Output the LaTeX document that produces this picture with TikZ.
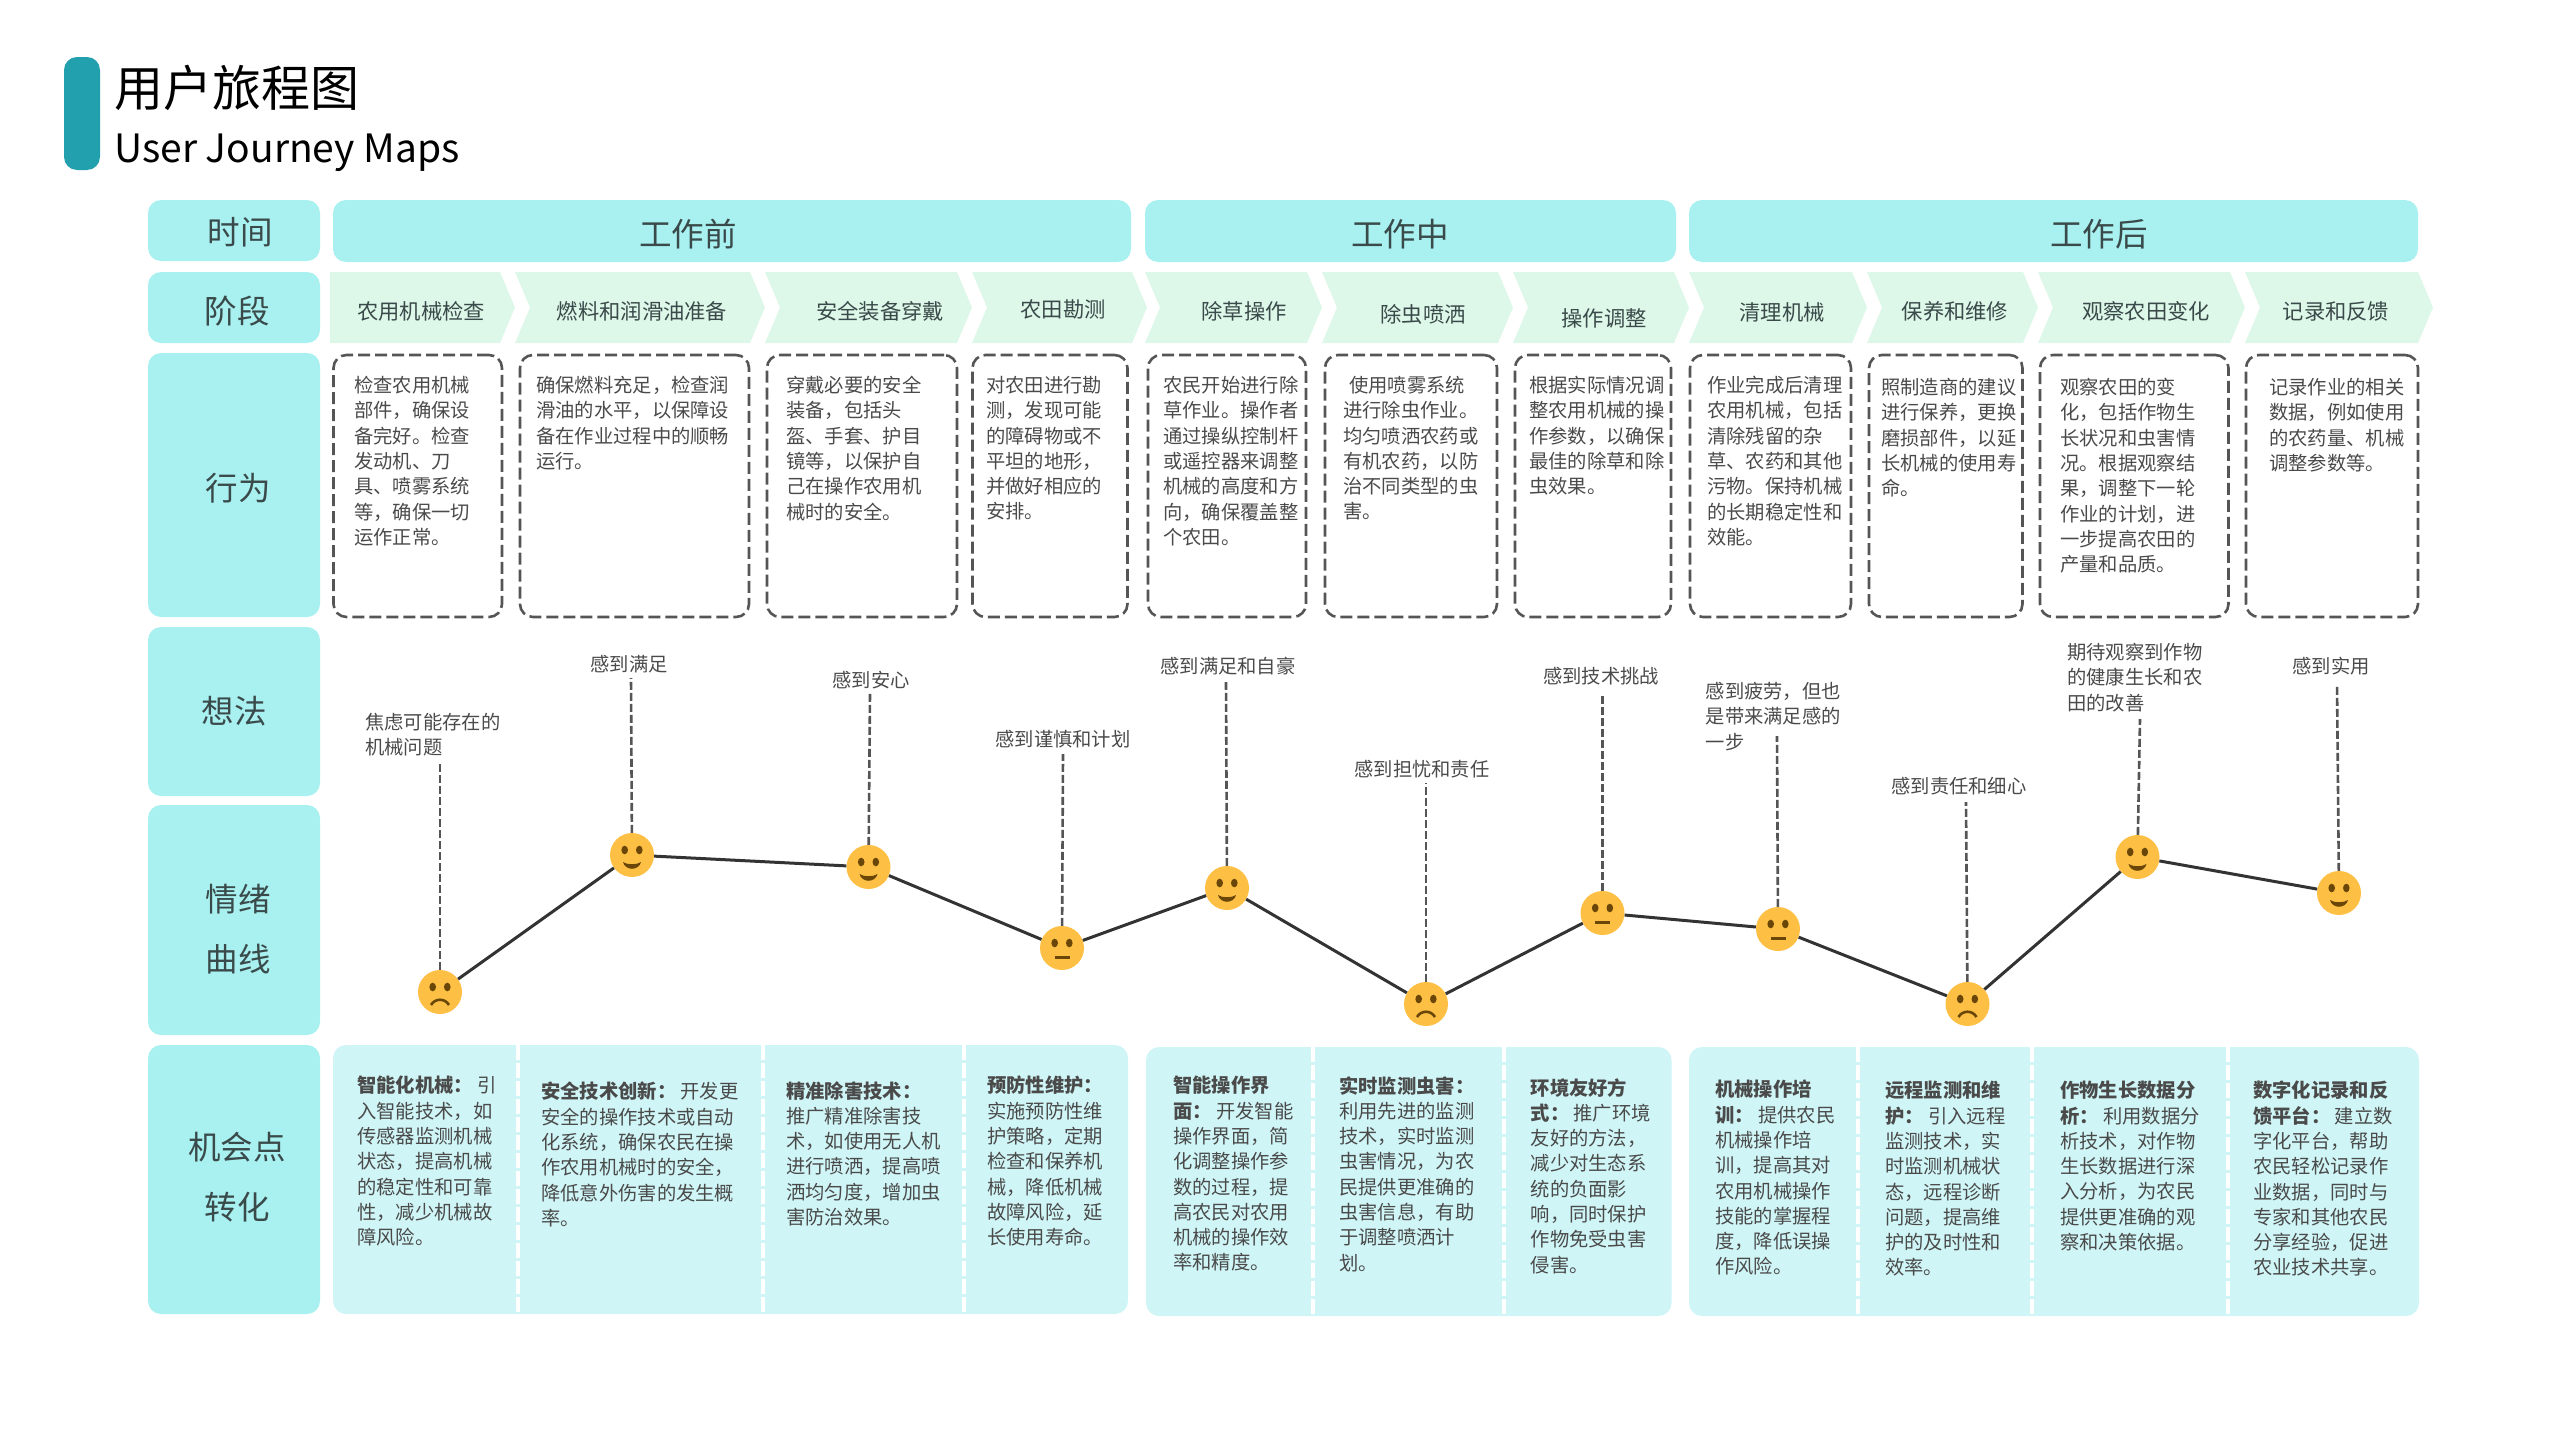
\documentclass[tikz,border=0pt]{standalone}
\usepackage{fontspec}
\setmainfont{Noto Sans CJK SC}
\definecolor{headcyan}{HTML}{A9F0F0}
\definecolor{stagegreen}{HTML}{DDF7E8}
\definecolor{chancecyan}{HTML}{D0F5F6}
\definecolor{barteal}{HTML}{22A0AE}
\definecolor{facegold}{HTML}{FDC044}
\definecolor{facebrown}{HTML}{6A4708}
\definecolor{textgray}{HTML}{4A4A4A}
\definecolor{headtext}{HTML}{3A4A4A}
\definecolor{lineink}{HTML}{333333}
\definecolor{dashink}{HTML}{555555}
\newcommand{\stagearrow}[2]{%
	\fill[stagegreen] (#1,272) -- (#2-15,272) -- (#2,307.5) -- (#2-15,343) -- (#1,343) -- (#1+15,307.5) -- cycle;}
\tikzset{
	headbox/.style={fill=headcyan, rounded corners=13pt, inner sep=0pt},
	headlabel/.style={text=headtext, inner sep=0pt, align=center, font=\fontsize{32.5pt}{60pt}\selectfont},
	stagelabel/.style={text=headtext, inner sep=0pt, font=\fontsize{21.3pt}{26pt}\selectfont},
	actbox/.style={draw=dashink, line width=2.6pt, dash pattern=on 12pt off 5pt, rounded corners=13pt, inner sep=0pt},
	bodytext/.style={text=textgray, inner sep=0pt, align=left, anchor=north west,
		font=\fontsize{19.3pt}{25.3pt}\selectfont},
	thought/.style={text=textgray, inner sep=0pt, font=\fontsize{19.3pt}{25.3pt}\selectfont},
	chancebox/.style={fill=chancecyan, rounded corners=13pt, inner sep=0pt},
	facenode/.style={circle, fill=facegold, minimum size=44pt, inner sep=0pt},
	moodline/.style={draw=lineink, line width=3pt},
	riseline/.style={draw=dashink, line width=2.6pt, dash pattern=on 8pt off 3pt},
	gapline/.style={draw=white, line width=4pt, dash pattern=on 15pt off 3pt},
	eyes/.pic={
		\fill[facebrown] (-7.3,-5) ellipse (3.3pt and 4.3pt);
		\fill[facebrown] (7.3,-5) ellipse (3.3pt and 4.3pt);},
	happy/.pic={
		\pic {eyes};
		\fill[facebrown] (-9,7) .. controls (-5,10) and (5,10) .. (9,7) .. controls (7,16) and (-7,16) .. (-9,7);},
	neutral/.pic={
		\pic {eyes};
		\fill[facebrown] (-7.5,8) rectangle (7.5,11);},
	sad/.pic={
		\pic {eyes};
		\draw[facebrown, line width=2.6pt] (-9,13) .. controls (-5,6) and (5,6) .. (9,13);},
}
\begin{document}
\begin{tikzpicture}[x=1pt, y=-1pt]
	\useasboundingbox (0,0) rectangle (2560,1440);
	% Title
	\node[fill=barteal, rounded corners=13pt, minimum width=36pt, minimum height=113pt, inner sep=0pt] (bar) at (82,113.5) {};
	\node[inner sep=0pt, anchor=west, font=\fontsize{49pt}{55pt}\selectfont] (title) at (114,88) {用户旅程图};
	\node[inner sep=0pt, anchor=west, font=\fontsize{39pt}{46pt}\selectfont] (subtitle) at (114,153) {User Journey Maps};
	
	% Row heads
	\node[headbox, minimum width=172pt, minimum height=61pt] (time) at (234,230.5) {};
	\node[headbox, minimum width=172pt, minimum height=71pt] (phase) at (234,307.5) {};
	\node[headbox, minimum width=172pt, minimum height=264pt] (act) at (234,485) {};
	\node[headbox, minimum width=172pt, minimum height=169pt] (idea) at (234,711.5) {};
	\node[headbox, minimum width=172pt, minimum height=230pt] (mood) at (234,920) {};
	\node[headbox, minimum width=172pt, minimum height=269pt] (chance) at (234,1179.5) {};
	\node[headlabel] (timetext) at (240,232) {时间};
	\node[headlabel] (phasetext) at (237,311) {阶段};
	\node[headlabel] (acttext) at (238,488) {行为};
	\node[headlabel] (ideatext) at (234,711) {想法};
	\node[headlabel] (moodtext) at (238,929) {情绪\\曲线};
	\node[headlabel] (chancetext) at (237,1177) {机会点\\转化};
	
	% Time spans
	\node[headbox, minimum width=798pt, minimum height=62pt] (before) at (732,231) {};
	\node[headbox, minimum width=531pt, minimum height=62pt] (during) at (1410.5,231) {};
	\node[headbox, minimum width=729pt, minimum height=62pt] (after) at (2053.5,231) {};
	\node[headlabel] (beforetext) at (688,234) {工作前};
	\node[headlabel] (duringtext) at (1400,234) {工作中};
	\node[headlabel] (aftertext) at (2099,234) {工作后};
	
	% Stages
	\fill[stagegreen] (330,272) -- (500,272) -- (515,307.5) -- (500,343) -- (330,343) -- cycle;
	\stagearrow{515}{765}
	\stagearrow{765}{972}
	\stagearrow{972}{1147}
	\stagearrow{1145}{1322}
	\stagearrow{1322}{1513}
	\stagearrow{1513}{1689}
	\stagearrow{1689}{1867}
	\stagearrow{1867}{2038}
	\stagearrow{2038}{2245}
	\stagearrow{2245}{2433}
	\node[stagelabel] (s1) at (421,311) {农用机械检查};
	\node[stagelabel] (s2) at (642,311) {燃料和润滑油准备};
	\node[stagelabel] (s3) at (880,311) {安全装备穿戴};
	\node[stagelabel] (s4) at (1063,309) {农田勘测};
	\node[stagelabel] (s5) at (1244,311) {除草操作};
	\node[stagelabel] (s6) at (1423,314) {除虫喷洒};
	\node[stagelabel] (s7) at (1604,318) {操作调整};
	\node[stagelabel] (s8) at (1782,312) {清理机械};
	\node[stagelabel] (s9) at (1955,311) {保养和维修};
	\node[stagelabel] (s10) at (2146,311) {观察农田变化};
	\node[stagelabel] (s11) at (2336,311) {记录和反馈};
	
	% Action boxes
	\node[actbox, minimum width=168.5pt, minimum height=262pt] (b1) at (417.75,486) {};
	\node[actbox, minimum width=229pt, minimum height=262pt] (b2) at (634.5,486) {};
	\node[actbox, minimum width=190pt, minimum height=262pt] (b3) at (862,486) {};
	\node[actbox, minimum width=155pt, minimum height=262pt] (b4) at (1050,486) {};
	\node[actbox, minimum width=158pt, minimum height=262pt] (b5) at (1227,486) {};
	\node[actbox, minimum width=172pt, minimum height=262pt] (b6) at (1411,486) {};
	\node[actbox, minimum width=156pt, minimum height=262pt] (b7) at (1593,486) {};
	\node[actbox, minimum width=161pt, minimum height=262pt] (b8) at (1770.5,486) {};
	\node[actbox, minimum width=153.5pt, minimum height=262pt] (b9) at (1945.75,486) {};
	\node[actbox, minimum width=188.5pt, minimum height=262pt] (b10) at (2134.25,486) {};
	\node[actbox, minimum width=172pt, minimum height=262pt] (b11) at (2332,486) {};
	
	% Action texts
	\node[bodytext] (bt1) at (354,376) {检查农用机械\\部件，确保设\\备完好。检查\\发动机、刀\\具、喷雾系统\\等，确保一切\\运作正常。};
	\node[bodytext] (bt2) at (536,376) {确保燃料充足，检查润\\滑油的水平，以保障设\\备在作业过程中的顺畅\\运行。};
	\node[bodytext] (bt3) at (786,376) {穿戴必要的安全\\装备，包括头\\盔、手套、护目\\镜等，以保护自\\己在操作农用机\\械时的安全。};
	\node[bodytext] (bt4) at (986,376) {对农田进行勘\\测，发现可能\\的障碍物或不\\平坦的地形，\\并做好相应的\\安排。};
	\node[bodytext] (bt5) at (1163,376) {农民开始进行除\\草作业。操作者\\通过操纵控制杆\\或遥控器来调整\\机械的高度和方\\向，确保覆盖整\\个农田。};
	\node[bodytext] (bt6) at (1343,376) {\hspace*{6pt}使用喷雾系统\\进行除虫作业。\\均匀喷洒农药或\\有机农药，以防\\治不同类型的虫\\害。};
	\node[bodytext] (bt7) at (1529,376) {根据实际情况调\\整农用机械的操\\作参数，以确保\\最佳的除草和除\\虫效果。};
	\node[bodytext] (bt8) at (1707,376) {作业完成后清理\\农用机械，包括\\清除残留的杂\\草、农药和其他\\污物。保持机械\\的长期稳定性和\\效能。};
	\node[bodytext] (bt9) at (1881,378) {照制造商的建议\\进行保养，更换\\磨损部件，以延\\长机械的使用寿\\命。};
	\node[bodytext] (bt10) at (2060,378) {观察农田的变\\化，包括作物生\\长状况和虫害情\\况。根据观察结\\果，调整下一轮\\作业的计划，进\\一步提高农田的\\产量和品质。};
	\node[bodytext] (bt11) at (2269,378) {记录作业的相关\\数据，例如使用\\的农药量、机械\\调整参数等。};
	
	% Thoughts
	\node[thought, anchor=north west, align=left] (t1) at (365,713) {焦虑可能存在的\\机械问题};
	\node[thought] (t2) at (629,664) {感到满足};
	\node[thought] (t3) at (871,680) {感到安心};
	\node[thought] (t4) at (1063,739) {感到谨慎和计划};
	\node[thought] (t5) at (1228,666) {感到满足和自豪};
	\node[thought] (t6) at (1422,769) {感到担忧和责任};
	\node[thought] (t7) at (1601,676) {感到技术挑战};
	\node[thought, anchor=north west, align=left] (t8) at (1705.5,682) {感到疲劳，但也\\是带来满足感的\\一步};
	\node[thought] (t9) at (1959,786) {感到责任和细心};
	\node[thought, anchor=north west, align=left] (t10) at (2067,643) {期待观察到作物\\的健康生长和农\\田的改善};
	\node[thought] (t11) at (2331,666) {感到实用};
	
	% Faces
	\node[facenode] (f1) at (440,992) {};
	\node[facenode] (f2) at (632,855) {};
	\node[facenode] (f3) at (868.5,867) {};
	\node[facenode] (f4) at (1062,948) {};
	\node[facenode] (f5) at (1227,888) {};
	\node[facenode] (f6) at (1426,1004) {};
	\node[facenode] (f7) at (1602.5,913) {};
	\node[facenode] (f8) at (1778,929) {};
	\node[facenode] (f9) at (1967.5,1004) {};
	\node[facenode] (f10) at (2137.5,857) {};
	\node[facenode] (f11) at (2339,893) {};
	\pic at (f1) {sad};
	\pic at (f2) {happy};
	\pic at (f3) {happy};
	\pic at (f4) {neutral};
	\pic at (f5) {happy};
	\pic at (f6) {sad};
	\pic at (f7) {neutral};
	\pic at (f8) {neutral};
	\pic at (f9) {sad};
	\pic at (f10) {happy};
	\pic at (f11) {happy};
	
	% Mood curve
	\draw[moodline] (f1) to (f2);
	\draw[moodline] (f2) to (f3);
	\draw[moodline] (f3) to (f4);
	\draw[moodline] (f4) to (f5);
	\draw[moodline] (f5) to (f6);
	\draw[moodline] (f6) to (f7);
	\draw[moodline] (f7) to (f8);
	\draw[moodline] (f8) to (f9);
	\draw[moodline] (f9) to (f10);
	\draw[moodline] (f10) to (f11);
	
	% Risers from faces to thoughts
	\coordinate (r1) at (440,763);
	\coordinate (r2) at (631,678);
	\coordinate (r3) at (870,693);
	\coordinate (r4) at (1063,754);
	\coordinate (r5) at (1226,682);
	\coordinate (r6) at (1426,783);
	\coordinate (r7) at (1602.5,693);
	\coordinate (r8) at (1777,736);
	\coordinate (r9) at (1966,802);
	\coordinate (r10) at (2140,719);
	\coordinate (r11) at (2337,684);
	\draw[riseline] (f1) to (r1);
	\draw[riseline] (f2) to (r2);
	\draw[riseline] (f3) to (r3);
	\draw[riseline] (f4) to (r4);
	\draw[riseline] (f5) to (r5);
	\draw[riseline] (f6) to (r6);
	\draw[riseline] (f7) to (r7);
	\draw[riseline] (f8) to (r8);
	\draw[riseline] (f9) to (r9);
	\draw[riseline] (f10) to (r10);
	\draw[riseline] (f11) to (r11);
	
	% Chance panels
	\node[chancebox, minimum width=795pt, minimum height=269pt] (p1) at (730.5,1179.5) {};
	\node[chancebox, minimum width=525.5pt, minimum height=269pt] (p2) at (1408.75,1181.5) {};
	\node[chancebox, minimum width=730pt, minimum height=269pt] (p3) at (2054,1181.5) {};
	\draw[gapline] (518,1045) -- (518,1314);
	\draw[gapline] (763,1045) -- (763,1314);
	\draw[gapline] (964,1045) -- (964,1314);
	\draw[gapline] (1313,1047) -- (1313,1316);
	\draw[gapline] (1504,1047) -- (1504,1316);
	\draw[gapline] (1858,1047) -- (1858,1316);
	\draw[gapline] (2031.5,1047) -- (2031.5,1316);
	\draw[gapline] (2228,1047) -- (2228,1316);
	
	% Chance texts
	\node[bodytext] (c1) at (357,1076) {\textbf{智能化机械：} 引\\入智能技术，如\\传感器监测机械\\状态，提高机械\\的稳定性和可靠\\性，减少机械故\\障风险。};
	\node[bodytext] (c2) at (541,1082) {\textbf{安全技术创新：} 开发更\\安全的操作技术或自动\\化系统，确保农民在操\\作农用机械时的安全，\\降低意外伤害的发生概\\率。};
	\node[bodytext] (c3) at (786,1081) {\textbf{精准除害技术：}\\推广精准除害技\\术，如使用无人机\\进行喷洒，提高喷\\洒均匀度，增加虫\\害防治效果。};
	\node[bodytext] (c4) at (987,1076) {\textbf{预防性维护：}\\实施预防性维\\护策略，定期\\检查和保养机\\械，降低机械\\故障风险，延\\长使用寿命。};
	\node[bodytext] (c5) at (1173,1076) {\textbf{智能操作界}\\\textbf{面：} 开发智能\\操作界面，简\\化调整操作参\\数的过程，提\\高农民对农用\\机械的操作效\\率和精度。};
	\node[bodytext] (c6) at (1339,1076) {\textbf{实时监测虫害：}\\利用先进的监测\\技术，实时监测\\虫害情况，为农\\民提供更准确的\\虫害信息，有助\\于调整喷洒计\\划。};
	\node[bodytext] (c7) at (1530.5,1078) {\textbf{环境友好方}\\\textbf{式：} 推广环境\\友好的方法，\\减少对生态系\\统的负面影\\响，同时保护\\作物免受虫害\\侵害。};
	\node[bodytext] (c8) at (1715,1080) {\textbf{机械操作培}\\\textbf{训：} 提供农民\\机械操作培\\训，提高其对\\农用机械操作\\技能的掌握程\\度，降低误操\\作风险。};
	\node[bodytext] (c9) at (1885,1081) {\textbf{远程监测和维}\\\textbf{护：} 引入远程\\监测技术，实\\时监测机械状\\态，远程诊断\\问题，提高维\\护的及时性和\\效率。};
	\node[bodytext] (c10) at (2060,1081) {\textbf{作物生长数据分}\\\textbf{析：} 利用数据分\\析技术，对作物\\生长数据进行深\\入分析，为农民\\提供更准确的观\\察和决策依据。};
	\node[bodytext] (c11) at (2253,1081) {\textbf{数字化记录和反}\\\textbf{馈平台：} 建立数\\字化平台，帮助\\农民轻松记录作\\业数据，同时与\\专家和其他农民\\分享经验，促进\\农业技术共享。};
\end{tikzpicture}
\end{document}
